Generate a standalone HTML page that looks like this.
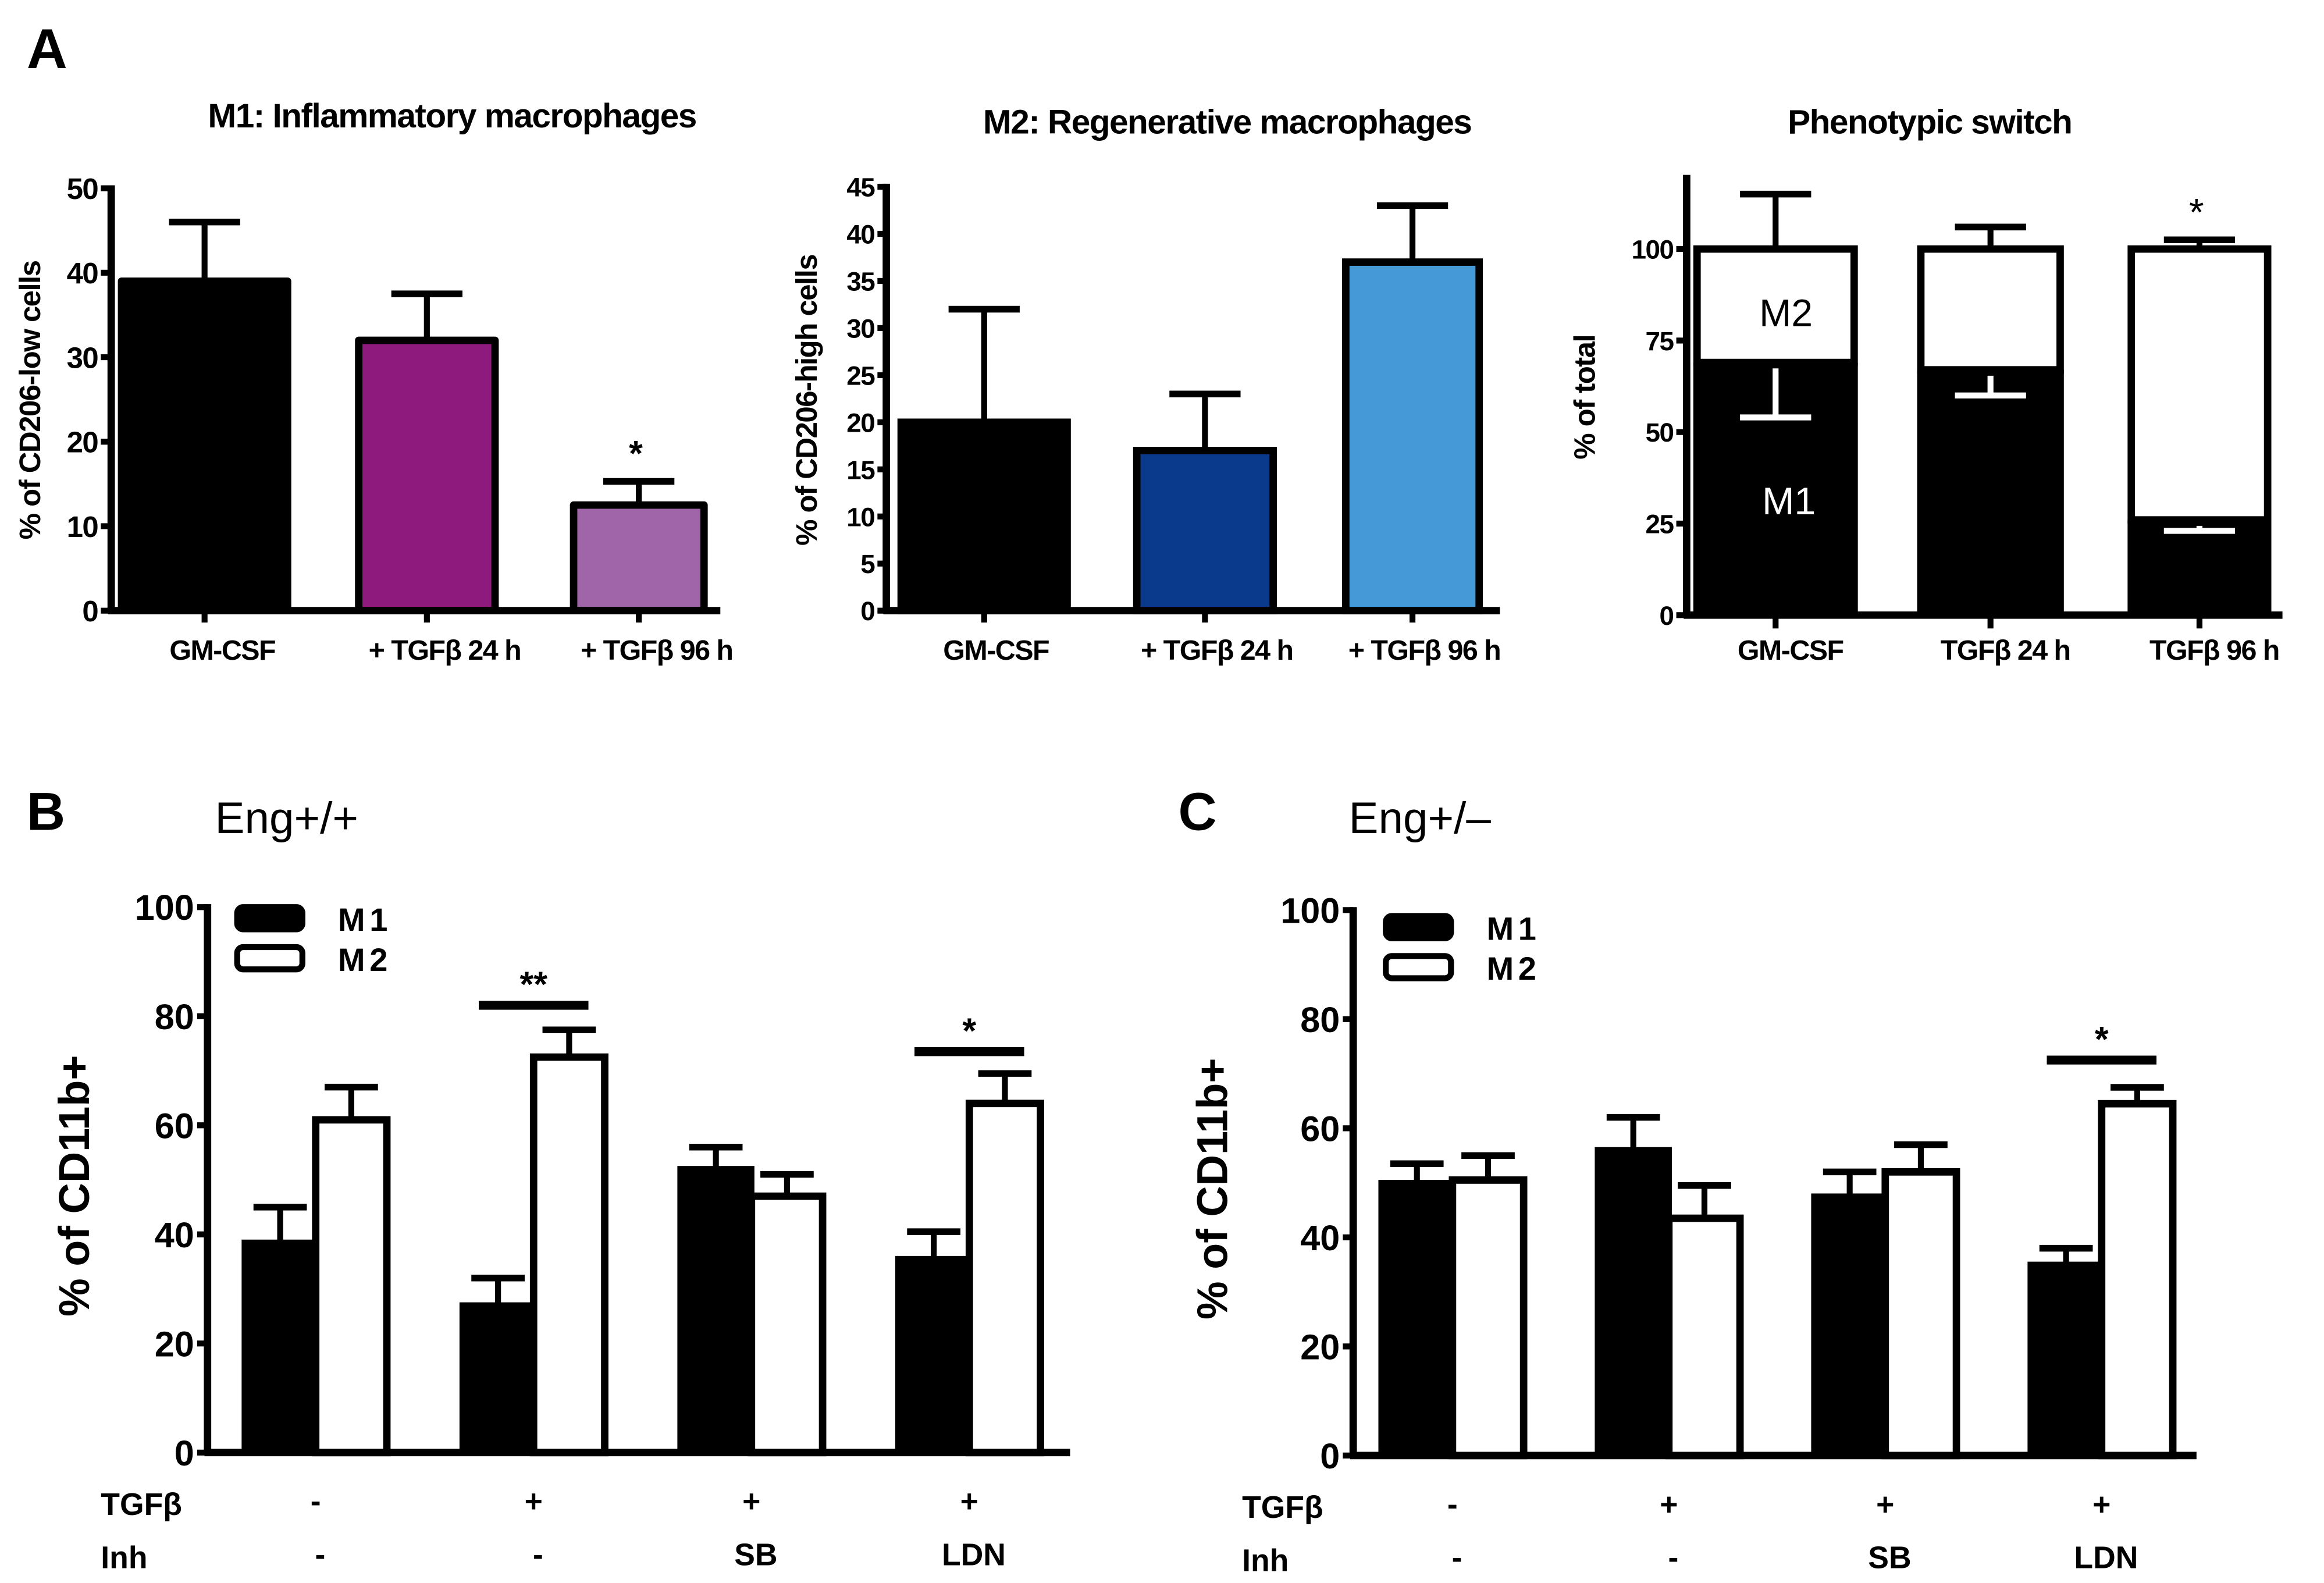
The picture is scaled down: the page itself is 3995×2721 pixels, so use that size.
<!DOCTYPE html>
<html><head><meta charset="utf-8">
<style>
html,body{margin:0;padding:0;background:#fff;}
svg{display:block;}
text{font-family:"Liberation Sans",sans-serif;}
.b{font-weight:bold;}
.n{letter-spacing:-0.6px;}
</style></head>
<body>
<svg id="fig" width="3995" height="2721" viewBox="0 0 1568 1068" xmlns="http://www.w3.org/2000/svg">
<rect x="0" y="0" width="1568" height="1068" fill="#fff"/>
<text x="18" y="46" class="b" font-size="38">A</text>
<text x="18" y="560" class="b" font-size="36">B</text>
<text x="795" y="560" class="b" font-size="36">C</text>
<text x="145" y="562" font-size="30">Eng+/+</text>
<text x="910" y="562" font-size="30">Eng+/–</text>
<g id="g"></g>
</svg>
<script>
// Panel A1 data
const a1Cats = ["GM-CSF", "+ TGFβ 24 h", "+ TGFβ 96 h"];
const a1Vals = [39, 32, 12.5];
const a1Errs = [46, 37.5, 15.3];
const a1Ticks = [0, 10, 20, 30, 40, 50];
// Panel A2 data
const a2Cats = ["GM-CSF", "+ TGFβ 24 h", "+ TGFβ 96 h"];
const a2Vals = [20, 17, 37];
const a2Errs = [32, 23, 43];
const a2Ticks = [0, 5, 10, 15, 20, 25, 30, 35, 40, 45];
// Panel A3 data
const a3Cats = ["GM-CSF", "TGFβ 24 h", "TGFβ 96 h"];
const a3M1 = [69, 67, 26];
const a3M1Low = [54, 60, 23];
const a3TotalErr = [115, 106, 102.5];
const a3Ticks = [0, 25, 50, 75, 100];
// Panel B data
const bM1 = [38.5, 27, 52, 35.5];
const bM1Err = [45, 32, 56, 40.5];
const bM2 = [61, 72.5, 47, 64];
const bM2Err = [67, 77.5, 51, 69.5];
// Panel C data
const cM1 = [50, 56, 47.5, 35];
const cM1Err = [53.5, 62, 52, 38];
const cM2 = [50.5, 43.5, 52, 64.5];
const cM2Err = [55, 49.5, 57, 67.5];
const bcTicks = [0, 20, 40, 60, 80, 100];
const tgfRow = ["-", "+", "+", "+"];
const inhRow = ["-", "-", "SB", "LDN"];

const NS = "http://www.w3.org/2000/svg";
const G = document.getElementById("g");
function mk(tag, attrs, txt) {
  const e = document.createElementNS(NS, tag);
  for (const k in attrs) e.setAttribute(k, attrs[k]);
  if (txt !== undefined) e.textContent = txt;
  G.appendChild(e);
  return e;
}
function line(x1, y1, x2, y2, w, c) { return mk("line", {x1, y1, x2, y2, stroke: c || "#000", "stroke-width": w}); }
function scale(y0, y1, v0, v1) { return v => y0 + (v - v0) * (y1 - y0) / (v1 - v0); }

function axes(ax, yTop, y0, xEnd, ticks, ys, fs, name, tickLen, cls) {
  let e = line(ax, yTop, ax, y0 + 2, 5);
  
  
  e = line(ax - 2, y0, xEnd, y0, 5);
  
  
  ticks.forEach(t => {
    const y = ys(t);
    line(ax - tickLen, y, ax, y, 4);
    const tx = mk("text", {x: ax - tickLen - 2, y: y + fs * 0.36, "text-anchor": "end", "font-size": fs, class: cls || "b"}, String(t));
    
    
  });
}
function errUp(cx, top, v, w, c, ys) {
  line(cx, ys(v), cx, ys(top), 4, c);
  line(cx - w, ys(top), cx + w, ys(top), 4.5, c);
}

// ---------- Panel A1 ----------
(function () {
  const ys = scale(412, 127, 0, 50);
  const xs = [138, 288, 431], bw = [112, 92, 88];
  const fills = ["#000", "#8e1a7d", "#a064a8"];
  let t = mk("text", {x: 305, y: 86, "text-anchor": "middle", "font-size": 23, class: "b n"}, "M1: Inflammatory macrophages");
   
  a1Vals.forEach((v, i) => {
    errUp(xs[i], a1Errs[i], v, 24, "#000", ys);
    const r = mk("rect", {x: xs[i] - bw[i] / 2, y: ys(v), width: bw[i], height: 412 - ys(v), fill: fills[i], stroke: "#000", "stroke-width": 5, "stroke-linejoin": "round"});
     
    line(xs[i], 412, xs[i], 420, 4);
    const l = mk("text", {x: xs[i] + 12, y: 445, "text-anchor": "middle", "font-size": 19, class: "b n"}, a1Cats[i]);
     
  });
  axes(75, 125, 412, 486, a1Ticks, ys, 20, "a1", 7, "b n");
  t = mk("text", {x: 429, y: 314, "text-anchor": "middle", "font-size": 24, class: "b"}, "*");
   
  t = mk("text", {x: 0, y: 0, transform: "translate(27,270) rotate(-90)", "text-anchor": "middle", "font-size": 20, class: "b n"}, "% of CD206-low cells");
   
})();

// ---------- Panel A2 ----------
(function () {
  const ys = scale(412, 126, 0, 45);
  const xs = [664, 813, 953], bw = [112, 92, 90];
  const fills = ["#000", "#0a3a8c", "#4499d6"];
  let t = mk("text", {x: 828, y: 90, "text-anchor": "middle", "font-size": 23, class: "b n"}, "M2: Regenerative macrophages");
   
  a2Vals.forEach((v, i) => {
    errUp(xs[i], a2Errs[i], v, 24, "#000", ys);
    const r = mk("rect", {x: xs[i] - bw[i] / 2, y: ys(v), width: bw[i], height: 412 - ys(v), fill: fills[i], stroke: "#000", "stroke-width": 5});
     
    line(xs[i], 412, xs[i], 420, 4);
    const l = mk("text", {x: xs[i] + 8, y: 445, "text-anchor": "middle", "font-size": 19, class: "b n"}, a2Cats[i]);
     
  });
  axes(598, 124, 412, 1012, a2Ticks, ys, 18, "a2", 6, "b n");
  t = mk("text", {x: 0, y: 0, transform: "translate(551,270) rotate(-90)", "text-anchor": "middle", "font-size": 20, class: "b n"}, "% of CD206-high cells");
   
})();

// ---------- Panel A3 ----------
(function () {
  const y0 = 415;
  const ys = scale(y0, 168, 0, 100);
  const xs = [1198, 1343, 1484], bw = [106, 94, 92];
  let t = mk("text", {x: 1302, y: 90, "text-anchor": "middle", "font-size": 23, class: "b n"}, "Phenotypic switch");
   
  a3M1.forEach((v, i) => {
    const L = xs[i] - bw[i] / 2;
    errUp(xs[i], a3TotalErr[i], 100, 24, "#000", ys);
    const r2 = mk("rect", {x: L, y: ys(100), width: bw[i], height: ys(v) - ys(100), fill: "#fff", stroke: "#000", "stroke-width": 5});
     
    const r1 = mk("rect", {x: L - 2.5, y: ys(v), width: bw[i] + 5, height: y0 - ys(v), fill: "#000"});
     
    line(xs[i], ys(v) + 4, xs[i], ys(a3M1Low[i]), 4, "#fff");
    line(xs[i] - 24, ys(a3M1Low[i]), xs[i] + 24, ys(a3M1Low[i]), 4, "#fff");
    line(xs[i], y0, xs[i], y0 + 9, 4);
    const l = mk("text", {x: xs[i] + 10, y: 445, "text-anchor": "middle", "font-size": 19, class: "b n"}, a3Cats[i]);
     
  });
  axes(1138, 118, y0, 1540, a3Ticks, ys, 18, "a3", 7, "b n");
  t = mk("text", {x: 1205, y: 220, "text-anchor": "middle", "font-size": 26}, "M2");
   
  t = mk("text", {x: 1207, y: 347, "text-anchor": "middle", "font-size": 26, fill: "#fff"}, "M1");
   
  t = mk("text", {x: 1482, y: 152, "text-anchor": "middle", "font-size": 26}, "*");
   
  t = mk("text", {x: 0, y: 0, transform: "translate(1076,268) rotate(-90)", "text-anchor": "middle", "font-size": 20, class: "b n"}, "% of total");
   
})();

// ---------- Panels B & C ----------
function grouped(name, ax, yTop, y0, xEnd, x0, step, m1, m1e, m2, m2e, sigs, legX, legY, rowLabX, yTitleX) {
  const ys = scale(y0, yTop, 0, 100);
  const bw = 48;
  m1.forEach((v, i) => {
    const gx = x0 + i * step;
    errUp(gx - bw / 2, m1e[i], v, 18, "#000", ys);
    errUp(gx + bw / 2, m2e[i], m2[i], 18, "#000", ys);
    const r1 = mk("rect", {x: gx - bw, y: ys(v), width: bw, height: y0 - ys(v), fill: "#000", stroke: "#000", "stroke-width": 4});
     
    const r2 = mk("rect", {x: gx, y: ys(m2[i]), width: bw, height: y0 - ys(m2[i]), fill: "#fff", stroke: "#000", "stroke-width": 5});
     
    let t = mk("text", {x: gx, y: y0 + 40, "text-anchor": "middle", "font-size": 21, class: "b"}, tgfRow[i]);
     
    t = mk("text", {x: gx + 3, y: y0 + 76, "text-anchor": "middle", "font-size": 21, class: "b"}, inhRow[i]);
     
  });
  axes(ax, yTop - 2, y0, xEnd, bcTicks, ys, 24, name, 7);
  sigs.forEach(s => {
    const gx = x0 + s.g * step;
    const y = ys(s.y);
    const l = line(gx - 37, y, gx + 37, y, 6);
     
    const t = mk("text", {x: gx, y: y - 6, "text-anchor": "middle", "font-size": 24, class: "b"}, s.s);
     
  });
  let r = mk("rect", {x: legX, y: legY, width: 44, height: 15, rx: 4, fill: "#000", stroke: "#000", "stroke-width": 4});
   
  r = mk("rect", {x: legX, y: legY + 27, width: 44, height: 15, rx: 4, fill: "#fff", stroke: "#000", "stroke-width": 4});
   
  let t = mk("text", {x: legX + 68, y: legY + 16, "font-size": 22, class: "b", "letter-spacing": 3}, "M1");
   
  t = mk("text", {x: legX + 68, y: legY + 43, "font-size": 22, class: "b", "letter-spacing": 3}, "M2");
   
  t = mk("text", {x: rowLabX, y: y0 + 42, "font-size": 21, class: "b"}, "TGFβ");
   
  t = mk("text", {x: rowLabX, y: y0 + 78, "font-size": 21, class: "b"}, "Inh");
   
  t = mk("text", {x: 0, y: 0, transform: "translate(" + yTitleX + "," + (y0 - 180) + ") rotate(-90)", "text-anchor": "middle", "font-size": 29, class: "b"}, "% of CD11b+");
   
}
grouped("b", 140, 612, 980, 722, 213, 147, bM1, bM1Err, bM2, bM2Err,
  [{g: 1, y: 82, s: "**"}, {g: 3, y: 73.5, s: "*"}], 160, 612, 68, 60);
grouped("c", 913, 614, 982, 1482, 980, 146, cM1, cM1Err, cM2, cM2Err,
  [{g: 3, y: 72.5, s: "*"}], 935, 618, 838, 828);
</script>
</body></html>
